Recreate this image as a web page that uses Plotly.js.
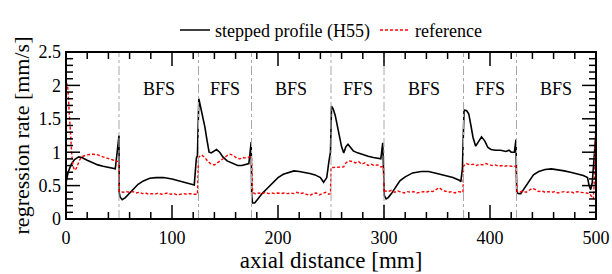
<!DOCTYPE html>
<html>
<head>
<meta charset="utf-8">
<script src="https://cdn.plot.ly/plotly-3.0.1.min.js"></script>
<style>html,body{margin:0;padding:0;background:#fff;}#chart{width:612px;height:274px;}</style>
</head>
<body>
<div id="chart"></div>
<script>
// stepped profile (H55)
const steppedX = [0,2,5,8,12,15,20,25,30,35,40,44,46.5,50,50.2,51,53,56,60,64,68,73,79,85,92,100,108,115,121,123,124,125.3,127,129,131,133,135,137,140,142,145,148,152,157,162,166,170,172.5,174.7,175.2,176,178,181,185,190,195,200,205,210,215,220,225,230,235,240,243,246,248,249.5,250.5,252,254,256,258,260,262,264,266,268,271,275,280,285,290,294,297,298.8,300.3,302,304,307,311,315,320,327,335,342,350,358,365,371,372.5,374,375.5,378,380,382,384,386.5,389,392,395,398,401,405,410,415,418,420,423,424.5,425.2,427,429,432,436,441,446,452,458,464,470,476,482,488,492,493.5,495,496.5,499.5];
const steppedY = [0.54,0.70,0.82,0.89,0.93,0.92,0.88,0.84,0.81,0.79,0.77,0.76,0.75,1.25,0.40,0.33,0.29,0.32,0.39,0.45,0.52,0.57,0.61,0.62,0.62,0.60,0.57,0.54,0.51,0.91,0.95,1.80,1.68,1.55,1.38,1.18,1.00,0.99,1.02,1.04,1.00,0.93,0.87,0.83,0.80,0.80,0.82,0.83,1.15,0.35,0.24,0.24,0.30,0.38,0.46,0.54,0.62,0.67,0.70,0.72,0.71,0.70,0.68,0.66,0.62,0.55,0.62,0.86,1.00,1.69,1.65,1.55,1.40,1.25,1.08,0.99,1.08,1.12,1.08,1.02,0.99,0.96,0.94,0.92,0.91,0.90,1.14,0.35,0.30,0.32,0.38,0.48,0.57,0.63,0.69,0.71,0.71,0.68,0.65,0.62,0.58,0.56,0.76,1.63,1.62,1.57,1.40,1.22,1.09,1.16,1.23,1.17,1.07,1.04,1.03,1.03,1.01,1.03,1.00,1.00,1.19,0.40,0.38,0.38,0.45,0.56,0.66,0.71,0.74,0.75,0.74,0.72,0.70,0.68,0.65,0.62,0.50,0.44,0.55,1.20];

// reference
const referenceX = [0,1.5,2.5,3.5,4.5,5.5,6.5,8,9.5,11,13,16,20,25,30,35,40,45,49.5,50.2,51,54,57,60,63,66,69,72,75,78,81,84,87,90,93,96,99,102,105,108,111,114,117,120,124,125,125.5,128,131,134,137,140,143,146,149,152,155,158,161,164,167,170,173,175,175.5,176,179,182,185,188,191,194,197,200,203,206,209,212,215,218,221,224,227,230,233,236,239,242,245,248,249.5,250,250.5,255,260,262,264,267,270,273,276,279,282,285,288,291,294,297,299.5,300,301,304,307,310,313,316,319,322,325,328,331,334,337,340,343,346,349,352,355,358,361,364,367,370,373,374.5,375,375.5,378,381,384,387,390,393,396,399,402,405,408,411,414,417,420,424.5,425,425.5,428,431,434,437,440,443,446,449,452,455,458,461,464,467,470,473,476,479,482,485,488,491,494,496,497.5,498.5,499.5];
const referenceY = [2.05,2.00,1.75,1.45,1.15,0.95,0.80,0.73,0.75,0.82,0.89,0.94,0.96,0.97,0.96,0.93,0.90,0.88,0.86,0.41,0.41,0.40,0.41,0.40,0.41,0.39,0.40,0.38,0.39,0.37,0.38,0.37,0.39,0.37,0.38,0.39,0.37,0.38,0.36,0.37,0.38,0.37,0.38,0.37,0.37,0.92,0.93,0.96,0.92,0.86,0.82,0.81,0.84,0.88,0.91,0.95,0.97,0.95,0.91,0.90,0.92,0.91,0.93,0.93,0.42,0.40,0.37,0.39,0.38,0.40,0.38,0.39,0.38,0.39,0.38,0.39,0.38,0.39,0.38,0.40,0.38,0.39,0.37,0.35,0.38,0.39,0.36,0.38,0.40,0.37,0.38,0.77,0.77,0.77,0.77,0.78,0.84,0.87,0.86,0.84,0.86,0.82,0.84,0.80,0.82,0.80,0.81,0.78,0.79,0.40,0.42,0.41,0.43,0.40,0.42,0.41,0.39,0.41,0.40,0.41,0.39,0.40,0.41,0.40,0.42,0.41,0.44,0.47,0.43,0.41,0.40,0.41,0.39,0.41,0.40,0.40,0.79,0.80,0.83,0.81,0.82,0.80,0.82,0.81,0.83,0.81,0.80,0.81,0.79,0.80,0.79,0.80,0.79,0.79,0.41,0.41,0.40,0.42,0.40,0.43,0.46,0.44,0.41,0.42,0.40,0.41,0.40,0.41,0.39,0.40,0.41,0.40,0.41,0.39,0.41,0.40,0.40,0.39,0.38,0.33,0.30,0.60,1.30];

const stepPositions = [50,125,175,250,300,375,425];
const sectionLabels = ['BFS','FFS','BFS','FFS','BFS','FFS','BFS'];
const sectionCenters = [87.5,150,212.5,275,337.5,400,462.5];
const labelLevel = 1.95;

const X_MAX = 500, X_MAJOR = 100, X_MINOR = 20;
const Y_MAX = 2.5, Y_MAJOR = 0.5, Y_MINOR = 0.1;

const FONT = 'Liberation Serif';

const traces = [
  {x: steppedX, y: steppedY, type: 'scatter', mode: 'lines', name: 'stepped profile (H55)',
   line: {color: 'black', width: 1.6}},
  {x: referenceX, y: referenceY, type: 'scatter', mode: 'lines', name: 'reference',
   line: {color: 'red', width: 1.4, dash: '3px,2px'}}
];

const shapes = stepPositions.map(p => ({
  type: 'line', xref: 'x', yref: 'paper', x0: p, x1: p, y0: 0, y1: 1,
  line: {color: '#a8a8a8', width: 1, dash: 'dashdot'}, layer: 'above'
}));

// inward tick marks on all four sides, placed on the axis scales
const tickLine = {color: 'black', width: 1.5};
const nX = Math.round(X_MAX / X_MINOR), xEvery = Math.round(X_MAJOR / X_MINOR);
for (let i = 0; i <= nX; i++) {
  const v = i * X_MINOR, len = (i % xEvery === 0) ? 14 : 7;
  [[0, len], [1, -len]].forEach(([anchor, l]) => shapes.push({
    type: 'line', xref: 'x', yref: 'paper', ysizemode: 'pixel', yanchor: anchor,
    x0: v, x1: v, y0: 0, y1: l, line: tickLine, layer: 'above'}));
}
const nY = Math.round(Y_MAX / Y_MINOR), yEvery = Math.round(Y_MAJOR / Y_MINOR);
for (let i = 0; i <= nY; i++) {
  const v = i * Y_MINOR, len = (i % yEvery === 0) ? 14 : 7;
  [[0, len], [1, -len]].forEach(([anchor, l]) => shapes.push({
    type: 'line', xref: 'paper', yref: 'y', xsizemode: 'pixel', xanchor: anchor,
    y0: v, y1: v, x0: 0, x1: l, line: tickLine, layer: 'above'}));
}
shapes.push({type: 'rect', xref: 'paper', yref: 'paper', x0: 0, x1: 1, y0: 0, y1: 1,
  line: {color: 'black', width: 2}, fillcolor: 'rgba(0,0,0,0)', layer: 'above'});

const annotations = sectionLabels.map((t, i) => ({
  text: t, x: sectionCenters[i], y: labelLevel, xref: 'x', yref: 'y',
  showarrow: false, font: {family: FONT, size: 18, color: 'black'}
}));

const layout = {
  width: 612, height: 274,
  margin: {l: 66, r: 16, t: 37, b: 55},
  font: {family: FONT, size: 18, color: 'black'},
  showlegend: true,
  legend: {orientation: 'h', x: 0.5, xanchor: 'center', y: 1.13, yanchor: 'middle',
           font: {family: FONT, size: 18}},
  xaxis: {
    range: [0, X_MAX], dtick: X_MAJOR, ticks: '', showline: false, showgrid: false, zeroline: false,
    tickfont: {family: FONT, size: 18}, ticklabelstandoff: 6,
    title: {text: 'axial distance [mm]', font: {family: FONT, size: 23}, standoff: 0}
  },
  yaxis: {
    range: [0, Y_MAX], dtick: Y_MAJOR, ticks: '', showline: false, showgrid: false, zeroline: false,
    tickfont: {family: FONT, size: 18}, ticklabelstandoff: 4,
    title: {text: 'regression rate [mm/s]', font: {family: FONT, size: 22}, standoff: 2}
  },
  shapes: shapes,
  annotations: annotations
};

Plotly.newPlot('chart', traces, layout, {displayModeBar: false});
</script>
</body>
</html>
